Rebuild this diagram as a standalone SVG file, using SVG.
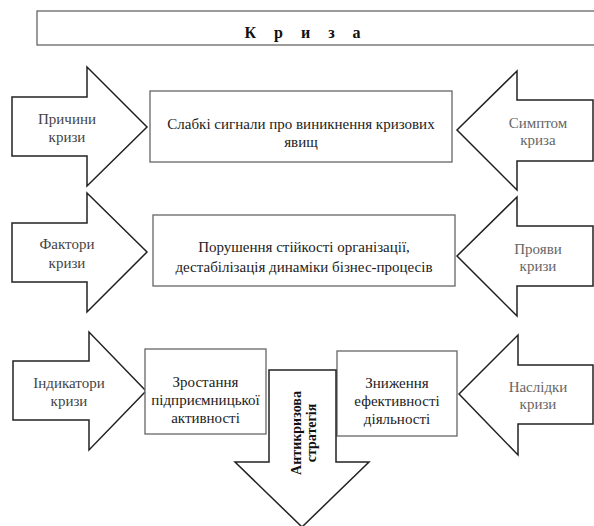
<svg xmlns="http://www.w3.org/2000/svg" width="594" height="526" viewBox="0 0 594 526" font-family="'Liberation Serif', 'DejaVu Serif', serif">
<style>
.bg{fill:#fff}
.box{fill:#fff;stroke:#666;stroke-width:1.3}
.arr{fill:#fff;stroke:#222;stroke-width:1.5;stroke-linejoin:miter}
text{font-family:'Liberation Serif','DejaVu Serif',serif;text-anchor:middle}
.lbl{font-size:15px;fill:#444}
.lblr{font-size:15px;fill:#666}
.txt{font-size:15px;fill:#222}
.ttl{font-size:16px;font-weight:bold;fill:#111}
.vt{font-size:14px;font-weight:bold;fill:#111}
</style>
<rect class="bg" x="0" y="0" width="594" height="526"/>
<g id="title">
<rect class="box" x="37" y="11" width="570" height="34" stroke="#888"/>
<text class="ttl" x="306" y="38" letter-spacing="7">К р и з а</text>
</g>
<g id="row1-left">
<polygon class="arr" points="12,97 87,97 87,67 147,127 87,186 87,156 12,156"/>
<text class="lbl" x="67" y="124">Причини</text>
<text class="lbl" x="67" y="142">кризи</text>
</g>
<g id="row1-center">
<rect class="box" x="150" y="91" width="302" height="71"/>
<text class="txt" x="301" y="129">Слабкі сигнали про виникнення кризових</text>
<text class="txt" x="301" y="147">явищ</text>
</g>
<g id="row1-right">
<polygon class="arr" points="593,100 517,100 517,71 457,130 517,190 517,161 593,161"/>
<text class="lblr" x="538" y="128">Симптом</text>
<text class="lblr" x="538" y="145">криза</text>
</g>
<g id="row2-left">
<polygon class="arr" points="12,223 87,223 87,193 147,252 87,312 87,282 12,282"/>
<text class="lbl" x="67" y="249">Фактори</text>
<text class="lbl" x="67" y="268">кризи</text>
</g>
<g id="row2-center">
<rect class="box" x="153" y="215" width="302" height="71"/>
<text class="txt" x="304" y="252">Порушення стійкості організації,</text>
<text class="txt" x="304" y="272">дестабілізація динаміки бізнес-процесів</text>
</g>
<g id="row2-right">
<polygon class="arr" points="593,226 517,226 517,197 457,256 517,316 517,286 593,286"/>
<text class="lblr" x="538" y="254">Прояви</text>
<text class="lblr" x="538" y="271">кризи</text>
</g>
<g id="row3-left">
<polygon class="arr" points="13,361 89,361 89,332 146,391 89,450 89,420 13,420"/>
<text class="lbl" x="69" y="388">Індикатори</text>
<text class="lbl" x="69" y="406">кризи</text>
</g>
<g id="row3-center-left">
<rect class="box" x="145" y="349" width="121" height="85"/>
<text class="txt" x="205.5" y="387">Зростання</text>
<text class="txt" x="205.5" y="405">підприємницької</text>
<text class="txt" x="205.5" y="423">активності</text>
</g>
<g id="row3-center-right">
<rect class="box" x="337" y="351" width="120" height="85"/>
<text class="txt" x="397" y="388">Зниження</text>
<text class="txt" x="397" y="406">ефективності</text>
<text class="txt" x="397" y="424">діяльності</text>
</g>
<g id="row3-right">
<polygon class="arr" points="593,365 518,365 518,335 459,394 518,455 518,424 593,424"/>
<text class="lblr" x="538" y="392">Наслідки</text>
<text class="lblr" x="538" y="409">кризи</text>
</g>
<g id="anticrisis">
<polygon class="arr" points="269,370 336,370 336,462 369,462 302,527 235,462 269,462"/>
<text class="vt" transform="translate(302,433) rotate(-90)" y="-1">Антикризова</text>
<text class="vt" transform="translate(302,433) rotate(-90)" y="14">стратегія</text>
</g>
<g id="connectors"></g>
</svg>
